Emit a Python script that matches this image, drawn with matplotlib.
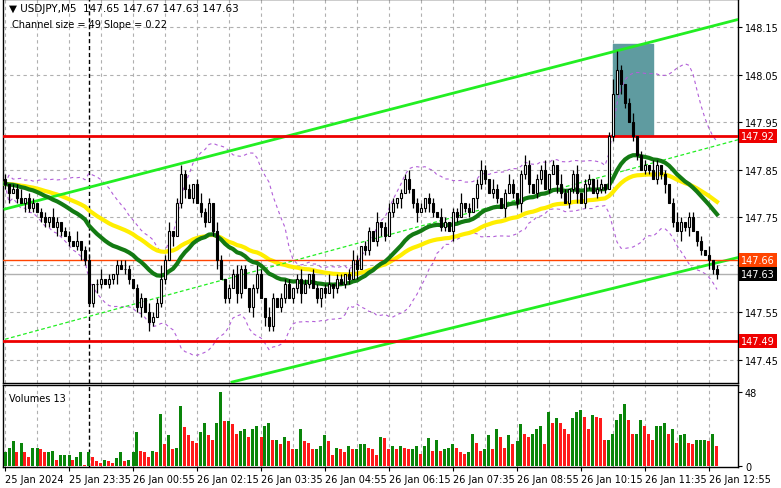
import numpy as np
import pandas as pd
import matplotlib
matplotlib.use("Agg")
import matplotlib.pyplot as plt

closes = [147.82,147.80,147.81,147.79,147.78,147.79,
147.77,147.78,147.76,147.75,147.74,147.75,147.73,147.74,147.72,147.71,147.70,147.69,147.70,147.68,147.66,
147.57,
147.61,147.61,147.62,147.61,147.62,147.63,147.65,147.64,147.64,
147.62,147.60,147.56,147.58,147.55,147.53,147.54,147.57,
147.62,147.66,147.72,147.71,147.78,147.84,147.81,
147.79,147.82,147.78,147.76,147.74,147.78,147.72,147.66,
147.62,147.58,147.60,147.63,147.59,147.64,147.60,
147.56,147.60,147.63,147.58,147.54,147.52,147.58,147.56,147.58,147.61,
147.58,147.60,147.62,147.59,147.61,147.63,147.60,147.58,147.60,147.59,147.61,147.60,147.62,147.61,147.63,
147.62,147.66,147.64,147.69,147.68,147.72,147.70,147.74,147.73,147.71,147.76,147.78,147.79,147.80,147.83,
147.81,147.78,147.76,147.77,147.79,147.78,147.76,147.75,147.73,147.74,147.72,147.76,147.75,147.78,147.77,147.76,147.79,147.82,147.85,147.83,
147.80,147.81,147.79,147.77,147.80,147.82,147.80,147.78,147.84,147.86,147.82,147.80,147.83,147.85,147.81,147.84,147.86,147.82,147.80,147.78,147.81,147.84,147.80,147.78,147.82,147.83,147.80,147.81,147.82,147.81,
147.92,148.01,148.06,148.03,
147.99,147.95,147.92,147.88,147.85,147.86,
147.85,147.83,147.86,147.84,147.82,
147.78,147.74,147.72,
147.74,147.73,147.75,147.72,147.70,147.68,147.67,
147.66,147.64,147.63]
first_open = 147.83
upper_wick = ("1011201101" "1021011020" "1101201011" "2101102113" "1201211012"
              "1102101121" "1012102101" "1101210110" "1201101210" "1102012101"
              "1201101102" "1011201012" "1021012101" "2101120102" "1012011021"
              "0134101201" "1021010121" "011010201")
lower_wick = ("1201021101" "1102101012" "1012101120" "1101202101" "1020120101"
              "1012011021" "0121021101" "1011201012" "1021011020" "1101210112"
              "0112012101" "1021011021" "1011020112" "1201101021" "0112011011"
              "1010210110" "1101120102" "120110211")
volumes = [9,12,16,9,15,9,6,12,12,11,9,9,10,4,7,7,7,4,6,9,1,9,6,3,2,4,3,2,5,9,3,4,9,22,10,9,6,10,9,34,
14,20,11,12,39,25,20,16,15,22,28,20,17,28,48,
29,29,27,21,23,24,19,24,26,19,26,28,17,17,14,19,16,11,11,24,16,15,11,11,13,20,16,7,12,11,9,13,11,11,14,14,12,11,7,19,
18,11,13,11,13,12,11,11,13,8,13,18,10,17,10,11,12,14,12,9,8,9,21,15,10,11,20,11,24,19,
12,20,14,16,27,21,19,21,24,26,14,35,28,31,28,24,21,31,35,36,32,24,33,32,31,17,17,21,30,34,
40,30,21,21,30,26,21,17,26,26,28,21,24,15,20,21,15,14,17,17,17,16,21,13]
xlabels = ["25 Jan 2024","25 Jan 23:35","26 Jan 00:55","26 Jan 02:15","26 Jan 03:35","26 Jan 04:55",
           "26 Jan 06:15","26 Jan 07:35","26 Jan 08:55","26 Jan 10:15","26 Jan 11:35","26 Jan 12:55"]
price_ticks = [148.15,148.05,147.95,147.85,147.75,147.55,147.45]
levels_red = [147.92,147.49]
level_orange = 147.66
last_price = 147.63
upper_chan = [(0,147.767),(183.75,148.167)]
lower_chan = [(56.75,147.403),(183.75,147.666)]
mid_chan = [(0,147.493),(183.75,147.914)]
box = (152,162,147.92,148.115)

c = np.array(closes); n = len(c)
o = np.concatenate([[first_open], c[:-1]])
hi = np.maximum(o,c) + np.array([int(d) for d in upper_wick])*0.01
lo = np.minimum(o,c) - np.array([int(d) for d in lower_wick])*0.01
x = np.arange(n)

W,H = 781,489
fig = plt.figure(figsize=(W/100,H/100), dpi=100)
ax = fig.add_axes([3/W,(H-384)/H,735/W,384/H])
av = fig.add_axes([3/W,(H-468)/H,735/W,82/H])
for a in (ax,av):
    a.set_xlim(-0.5,183.25)
    for s in a.spines.values(): s.set_linewidth(1.0)
ax.set_ylim(147.401,148.209)
av.set_ylim(-0.6,52.5)

grid_kw = dict(color="#b0b0b0", ls=(0,(3,3)), lw=0.8, zorder=0)
for k in range(0,184,8):
    ax.axvline(k, **grid_kw); av.axvline(k, **grid_kw)
for p in np.arange(147.45,148.2,0.1):
    ax.axhline(p, **grid_kw)
ax.axvline(21, color="black", ls=(0,(3,2)), lw=1, zorder=1)
av.axvline(21, color="black", ls=(0,(3,2)), lw=1, zorder=1)

ax.fill_between([box[0],box[1]],box[2],box[3],color="#5f9ba0",zorder=1)

s = pd.Series(c)
ma_fast = s.ewm(span=26,adjust=False).mean()
ma_slow = s.ewm(span=50,adjust=False).mean()
mid = s.rolling(20,min_periods=1).mean()
sd = s.rolling(20,min_periods=1).std().fillna(0)
ax.plot(x, mid+2*sd, color="#b25fd8", ls=(0,(3,3)), lw=0.8, zorder=2)
ax.plot(x, mid-2*sd, color="#b25fd8", ls=(0,(3,3)), lw=0.8, zorder=2)
ax.plot(x, ma_slow, color="#ffee00", lw=3, zorder=3)
ax.plot(x, ma_fast, color="#137a13", lw=3, zorder=4)

for seg,ls,lw in ((upper_chan,"-",2),(lower_chan,"-",2),(mid_chan,(0,(3,2)),0.9)):
    ax.plot([seg[0][0],seg[1][0]],[seg[0][1],seg[1][1]],color="#22ee22",ls=ls,lw=lw,zorder=3)

for p in levels_red:
    ax.axhline(p,color="#ee0000",lw=2,zorder=3)
ax.axhline(level_orange,color="#ff4400",lw=1,zorder=3)
ax.axhline(last_price,color="#b0b0b0",lw=1,zorder=2)

ax.vlines(x, lo, hi, color="black", lw=0.9, zorder=5)
up = c>=o
ax.bar(x[up], (c-o)[up]+0.0001, bottom=o[up], width=0.7, color="white", edgecolor="black", lw=0.8, zorder=6)
ax.bar(x[~up], (c-o)[~up], bottom=o[~up], width=0.7, color="black", edgecolor="black", lw=0.8, zorder=6)

v = np.array(volumes)
vc = ["#ff1a1a" if i>0 and v[i]<v[i-1] else "#0a850a" for i in range(n)]
av.bar(x, v, width=0.75, color=vc, zorder=3)

fs = 7
ax.set_xticks([]); ax.yaxis.tick_right()
ax.set_yticks(price_ticks); ax.set_yticklabels([f"{p:.2f}" for p in price_ticks], fontsize=fs)
ax.tick_params(axis="y", length=3, pad=2)
av.yaxis.tick_right()
av.set_yticks([0,48]); av.set_yticklabels(["0","48"], fontsize=fs)
av.tick_params(axis="y", length=3, pad=2)
av.set_xticks(range(0,177,16))
av.set_xticklabels(xlabels, fontsize=fs, ha="left")
av.tick_params(axis="x", length=3, pad=2)

def tag(p, bg, fg="white"):
    ax.text(1.004, p, f"{p:.2f}", transform=ax.get_yaxis_transform(), fontsize=fs, color=fg,
            va="center", ha="left", bbox=dict(boxstyle="square,pad=0.2", fc=bg, ec="none"), clip_on=False, zorder=10)
tag(147.92,"#ee0000"); tag(147.49,"#ee0000"); tag(147.66,"#ff4400"); tag(147.63,"black")

ax.text(0.008,0.99,"▼ USDJPY,M5  147.65 147.67 147.63 147.63", transform=ax.transAxes, fontsize=fs+0.5, va="top")
ax.text(0.012,0.948,"Channel size = 49 Slope = 0.22", transform=ax.transAxes, fontsize=fs, va="top")
av.text(0.008,0.9,"Volumes 13", transform=av.transAxes, fontsize=fs, va="top")
fig.savefig("out.png", dpi=100)
